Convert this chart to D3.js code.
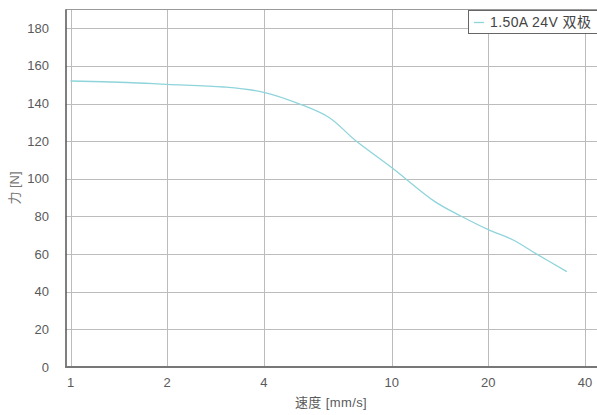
<!DOCTYPE html>
<html><head><meta charset="utf-8">
<script src="https://cdn.jsdelivr.net/npm/d3@7"></script>
<style>
html,body{margin:0;padding:0;background:#fff;}
svg{display:block;}
text{font-family:"Liberation Sans",Arial,"Noto Sans CJK SC",sans-serif;}
</style></head>
<body><svg id="c" width="597" height="415"></svg>
<script>
const speed = [1, 1.5, 2, 3, 4, 5.2, 6.4, 7.7, 10, 13.6, 16.3, 20, 23.9, 28.3, 35.1];
const force = [152, 151.2, 150.2, 148.8, 146, 139.6, 132.5, 120.5, 106, 88, 80.5, 73, 67.5, 60, 50.7];
const xTicks = [1, 2, 4, 10, 20, 40];
const yTicks = [0, 20, 40, 60, 80, 100, 120, 140, 160, 180];
const seriesName = "1.50A 24V 双极";
const xLabel = "速度 [mm/s]";
const yLabel = "力 [N]";

const svg = d3.select("#c");
const L = 65.5, R = 597, T = 9.5, B = 367;
const x = d3.scaleLog().domain([1, 40]).range([70.5, 585]);
const y = d3.scaleLinear().domain([0, 180]).range([367, 28.3]);

// grid
svg.append("g").selectAll("line").data(yTicks.filter(d => d > 0)).join("line")
  .attr("x1", L).attr("x2", R)
  .attr("y1", d => Math.round(y(d)) + 0.5).attr("y2", d => Math.round(y(d)) + 0.5)
  .attr("stroke", "#bcbcbc").attr("stroke-width", 1);
svg.append("g").selectAll("line").data(xTicks).join("line")
  .attr("y1", T).attr("y2", B)
  .attr("x1", d => Math.round(x(d)) + 0.5).attr("x2", d => Math.round(x(d)) + 0.5)
  .attr("stroke", "#bcbcbc").attr("stroke-width", 1);

// frame
svg.append("line").attr("x1", L).attr("x2", R).attr("y1", T).attr("y2", T)
  .attr("stroke", "#9a9a9a").attr("stroke-width", 1);
svg.append("line").attr("x1", L + 0.5).attr("x2", L + 0.5).attr("y1", T).attr("y2", B + 1)
  .attr("stroke", "#555").attr("stroke-width", 1.5);
svg.append("line").attr("x1", L).attr("x2", R).attr("y1", B).attr("y2", B)
  .attr("stroke", "#777").attr("stroke-width", 2);

// tick labels
svg.append("g").selectAll("text").data(yTicks).join("text")
  .attr("x", 49).attr("y", d => y(d) + 4.5)
  .attr("text-anchor", "end").attr("font-size", 13).attr("fill", "#5a5a5a")
  .text(d => d);
svg.append("g").selectAll("text").data(xTicks).join("text")
  .attr("x", d => x(d)).attr("y", 387)
  .attr("text-anchor", "middle").attr("font-size", 13).attr("fill", "#5a5a5a")
  .text(d => d);

// axis labels
svg.append("text").attr("x", 331).attr("y", 407).attr("text-anchor", "middle")
  .attr("font-size", 13).attr("fill", "#5a5a5a").attr("letter-spacing", 0.4).text(xLabel);
svg.append("text").attr("transform", "translate(19,188) rotate(-90)")
  .attr("text-anchor", "middle").attr("font-size", 13).attr("fill", "#777").text(yLabel);

// line
const pts = speed.map((s, i) => [s, force[i]]);
svg.append("path").datum(pts)
  .attr("d", d3.line().x(d => x(d[0])).y(d => y(d[1])).curve(d3.curveCatmullRom.alpha(0.5)))
  .attr("fill", "none").attr("stroke", "#8ed4da").attr("stroke-width", 1.3);

// legend
const lg = svg.append("g");
lg.append("rect").attr("x", 468.5).attr("y", 10.5).attr("width", 140).attr("height", 23)
  .attr("fill", "#fff").attr("stroke", "#666").attr("stroke-width", 1);
lg.append("line").attr("x1", 474).attr("x2", 484).attr("y1", 22.5).attr("y2", 22.5)
  .attr("stroke", "#8ed4da").attr("stroke-width", 1.3);
lg.append("text").attr("x", 490).attr("y", 27).attr("font-size", 14).attr("fill", "#444")
  .attr("letter-spacing", 0.4).text(seriesName);
</script></body></html>
